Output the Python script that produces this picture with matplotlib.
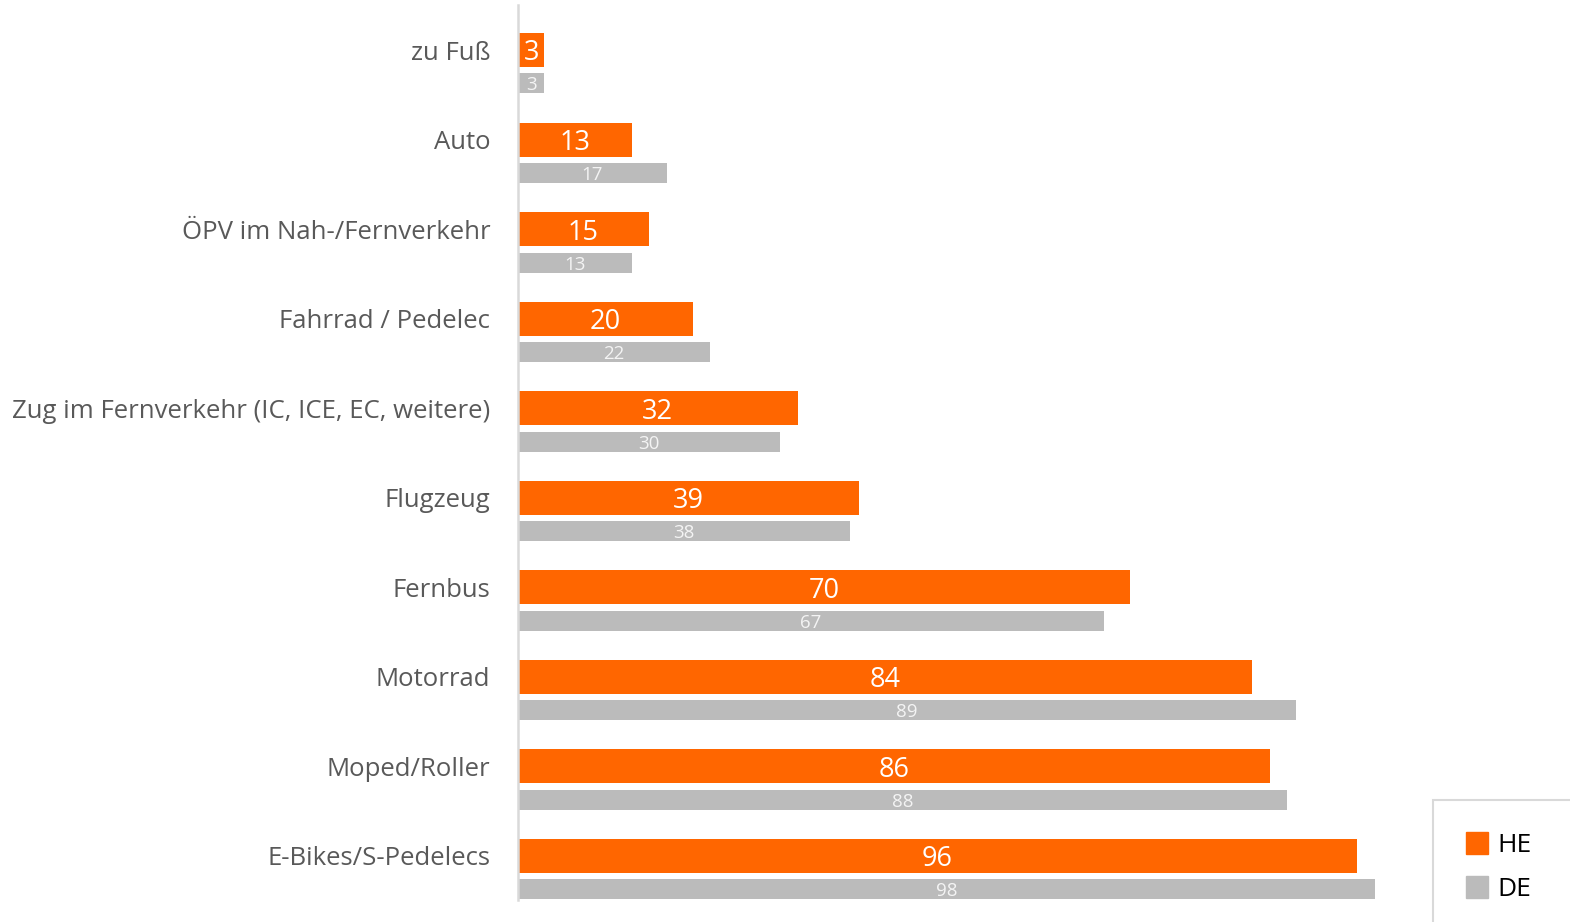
import matplotlib.pyplot as plt
from matplotlib.lines import Line2D
from matplotlib.patches import Rectangle

categories = ["zu Fuß", "Auto", "ÖPV im Nah-/Fernverkehr", "Fahrrad / Pedelec",
              "Zug im Fernverkehr (IC, ICE, EC, weitere)", "Flugzeug", "Fernbus",
              "Motorrad", "Moped/Roller", "E-Bikes/S-Pedelecs"]
he_values = [3, 13, 15, 20, 32, 39, 70, 84, 86, 96]
de_values = [3, 17, 13, 22, 30, 38, 67, 89, 88, 98]
series_names = ["HE", "DE"]

ORANGE = "#FF6600"
GREY = "#BBBBBB"
FONT = ["Open Sans", "DejaVu Sans"]
plt.rcParams["font.family"] = FONT

W, H = 1570, 922
fig = plt.figure(figsize=(W / 100, H / 100), dpi=100)

x0_px, top_px, bot_px = 518, 5, 900
px_per_unit = 8.74
x_max = 105
ax = fig.add_axes([x0_px / W, (H - bot_px) / H,
                   x_max * px_per_unit / W, (bot_px - top_px) / H])

pitch = 89.55
top_lim = -(50 - top_px) / pitch
bot_lim = (bot_px - 50) / pitch
ax.set_ylim(bot_lim, top_lim)
ax.set_xlim(0, x_max)

ypos = list(range(len(categories)))
he_h = 34 / pitch
de_h = 20 / pitch
de_off = 33.5 / pitch

he_bars = ax.barh(ypos, he_values, height=he_h, color=ORANGE, edgecolor="none")
de_bars = ax.barh([y + de_off for y in ypos], de_values, height=de_h,
                  color=GREY, edgecolor="none")

he_txt = ax.bar_label(he_bars, labels=[str(v) for v in he_values],
                      label_type="center", color="white", fontsize=19.5)
de_txt = ax.bar_label(de_bars, labels=[str(v) for v in de_values],
                      label_type="center", color="#F4F4F4", fontsize=13.5)
for t in list(he_txt) + list(de_txt):
    t.set_va("center_baseline")

ax.set_yticks(ypos)
ax.set_yticklabels(categories, fontsize=18.5, color="#595959")
ax.tick_params(axis="y", length=0, pad=20)
ax.set_xticks([])
for side in ("top", "right", "bottom"):
    ax.spines[side].set_visible(False)
ax.spines["left"].set_color("#D9D9D9")
ax.spines["left"].set_linewidth(1.8)

# legend box running off the lower right corner
fig.patches.append(Rectangle((1433 / W, -0.1), 0.2, (H - 800) / H + 0.1,
                             transform=fig.transFigure, facecolor="white",
                             edgecolor="#D9D9D9", linewidth=1.5, zorder=0))
handles = [Line2D([], [], linestyle="none", marker="s", markersize=15.5,
                  markerfacecolor=c, markeredgecolor=c)
           for c in (ORANGE, GREY)]
fig.legend(handles, series_names, loc="upper left",
           bbox_to_anchor=(1464 / W, 1 - 833 / H), frameon=False,
           fontsize=19, handlelength=1.0, handletextpad=0.27,
           labelspacing=0.73, borderaxespad=0, borderpad=0)

fig.savefig("out.png", dpi=100)
